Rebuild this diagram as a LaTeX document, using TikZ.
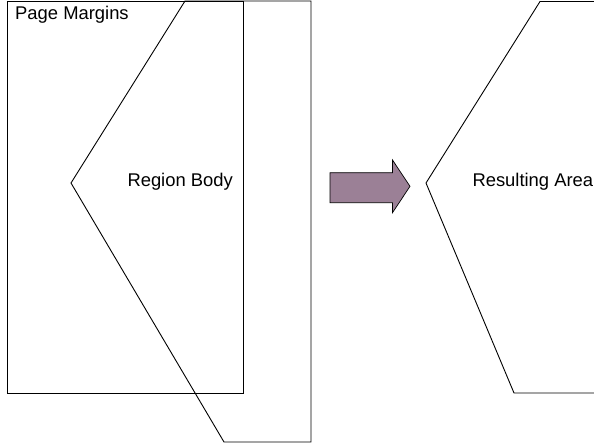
\documentclass[tikz,border=0pt]{standalone}
\usepackage{fontspec}
\setmainfont{Liberation Sans}
\definecolor{arrowfill}{RGB}{155,128,150}
\begin{document}
\begin{tikzpicture}[x=1pt,y=-1pt,
  outline/.style={draw=black,line width=0.9pt,line join=miter},
  label/.style={anchor=base west,inner sep=0pt,font=\fontsize{18.4}{20}\selectfont}]
\useasboundingbox (0,0) rectangle (594,445);
\clip (0,0) rectangle (594,445);
% page margins
\draw[outline] (7.5,1) rectangle (243,393);
% region body
\draw[outline] (185,1) -- (311,1) -- (311,442) -- (224,442) -- (71,183) -- cycle;
% resulting area
\draw[outline] (600,1.5) -- (540,1.5) -- (426,183) -- (514,393) -- (600,393);
% arrow
\draw[draw=black,line width=0.7pt,fill=arrowfill] (330,172.7) -- (392.5,172.7) -- (392.5,160) -- (410,186.3) -- (392.5,212.7) -- (392.5,202.7) -- (330,202.7) -- cycle;
% labels
\node[label] (pm) at (15,19) {Page Margins};
\node[label] (rb) at (127.3,186.5) {Region Body};
\node[label] (ra) at (472.3,186.5) {Resulting Area};
\end{tikzpicture}
\end{document}
